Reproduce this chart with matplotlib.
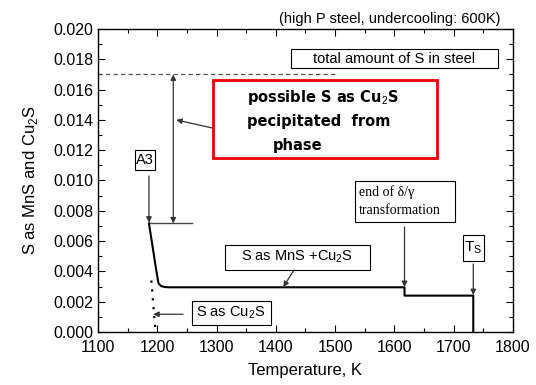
"""S as MnS / Cu2S vs temperature (high P steel, undercooling 600K)."""
import matplotlib
matplotlib.use("Agg")
import matplotlib.pyplot as plt
from matplotlib.patches import Rectangle
from matplotlib.ticker import MultipleLocator

plt.rcParams["font.family"] = ["Liberation Sans", "DejaVu Sans"]
plt.rcParams["mathtext.fontset"] = "custom"
plt.rcParams["mathtext.rm"] = "Liberation Sans"

# ── data ────────────────────────────────────────────────────────────
# total S as MnS + Cu2S
temp_total = [1186, 1192, 1198, 1202, 1206, 1212, 1220, 1617, 1617, 1733, 1733]
s_total = [0.00717, 0.00566, 0.00415, 0.00322, 0.00304, 0.00297, 0.00295,
           0.00295, 0.00240, 0.00240, 0.0]
# S as Cu2S (dotted)
temp_cu2s = [1190, 1197]
s_cu2s = [0.0034, 0.0]
# total amount of S in steel (dashed)
temp_steel = [1100, 1500]
s_steel = [0.017, 0.017]
# bracket at A3
temp_a3 = [1186, 1258]
s_a3 = [0.00717, 0.00717]

T_ARROW = 1227          # double arrow between A3 level and total S
T_DELTA_GAMMA = 1617
T_SOLIDUS = 1733

fig = plt.figure(figsize=(5.36, 3.85), dpi=100)
ax = fig.add_axes([0.1828, 0.1377, 0.7743, 0.787])

ax.plot(temp_total, s_total, color="black", lw=1.5, zorder=3)
ax.plot(temp_cu2s, s_cu2s, color="black", lw=1.6, linestyle=(0, (1, 3)))
ax.plot(temp_steel, s_steel, color="#555555", lw=0.9, linestyle=(0, (3.5, 2.5)))
ax.plot(temp_a3, s_a3, color="#444444", lw=1.0)

ax.set_xlim(1100, 1800)
ax.set_ylim(0, 0.020)
ax.xaxis.set_major_locator(MultipleLocator(100))
ax.xaxis.set_minor_locator(MultipleLocator(50))
ax.yaxis.set_major_locator(MultipleLocator(0.002))
ax.yaxis.set_minor_locator(MultipleLocator(0.001))
ax.yaxis.set_major_formatter(lambda v, p: f"{v:.3f}")
ax.tick_params(which="both", direction="in", top=True, right=True,
               labelsize=11.5, width=0.8)
ax.tick_params(which="major", length=5)
ax.tick_params(which="minor", length=3)
ax.tick_params(axis="x", which="major", pad=5.5)
for sp in ax.spines.values():
    sp.set_linewidth(1.0)

ax.set_xlabel("Temperature, K", fontsize=12, labelpad=6)
ax.set_ylabel("S as MnS and Cu$_2$S", fontsize=12, labelpad=9)

ax.text(0.969, 1.033, "(high P steel, undercooling: 600K)", transform=ax.transAxes,
        ha="right", va="center", fontsize=10.5)


def box(x0, y0, x1, y1, ec="black", lw=0.8):
    ax.add_patch(Rectangle((x0, y0), x1 - x0, y1 - y0, fill=False,
                           ec=ec, lw=lw, zorder=4, clip_on=False))


def arrow(x0, y0, x1, y1, style="-|>", color="#333333"):
    ax.annotate("", xy=(x1, y1), xytext=(x0, y0),
                arrowprops=dict(arrowstyle=style, color=color, lw=0.9,
                                mutation_scale=8, shrinkA=0, shrinkB=0))


# total amount of S
box(1425, 0.01743, 1775, 0.01868)
ax.text(1600, 0.01805, "total amount of S in steel", ha="center", va="center",
        fontsize=10.5)

# red box
box(1294.5, 0.01147, 1671.3, 0.01663, ec="#ee0000", lw=2.0)
red_font = dict(fontsize=10.5, fontweight="bold",
                family=["Liberation Sans Narrow", "DejaVu Sans"], va="center")
ax.text(1352, 0.01545, "possible S as Cu$_2$S", ha="left", **red_font)
ax.text(1352, 0.01388, "pecipitated  from", ha="left", **red_font)
ax.text(1394, 0.01234, "phase", ha="left", **red_font)
arrow(1294.5, 0.01345, 1232, 0.0140)

# double arrow from A3 level up to total S
arrow(T_ARROW, 0.00717, T_ARROW, 0.017, style="<|-|>")

# A3
box(1162.4, 0.01069, 1196.1, 0.01201)
ax.text(1179.2, 0.01135, "A3", ha="center", va="center", fontsize=10.5)
arrow(1186, 0.0103, 1186, 0.00722)

# end of delta/gamma transformation
box(1533.5, 0.00728, 1702.1, 0.00997)
serif = dict(family=["Liberation Serif", "DejaVu Serif"], fontsize=10, va="center")
ax.text(1540, 0.00925, "end of δ/γ", ha="left", **serif)
ax.text(1540, 0.0080, "transformation", ha="left", **serif)
arrow(T_DELTA_GAMMA, 0.00693, T_DELTA_GAMMA, 0.00297)

# S as MnS + Cu2S
box(1314.2, 0.00409, 1558.8, 0.00574)
ax.text(1436.5, 0.00495, "S as MnS +Cu$_2$S", ha="center", va="center",
        fontsize=10.5)
arrow(1430.6, 0.00409, 1412.5, 0.00297)

# S as Cu2S
box(1258, 0.00046, 1391.3, 0.00207)
ax.text(1324.6, 0.00130, "S as Cu$_2$S", ha="center", va="center", fontsize=10.5)
arrow(1243.4, 0.00117, 1193.3, 0.00117)

# solidus
box(1715.1, 0.00469, 1751.5, 0.0064)
ax.text(1733.3, 0.00555, r"T$_\mathrm{S}$", ha="center", va="center",
        fontsize=11)
arrow(T_SOLIDUS, 0.00449, T_SOLIDUS, 0.00244)

fig.savefig("out.png", dpi=100)
